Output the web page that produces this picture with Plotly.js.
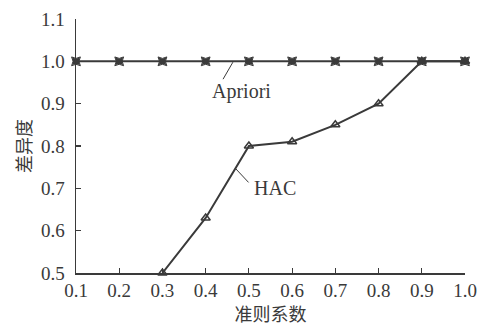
<!DOCTYPE html>
<html>
<head>
<meta charset="utf-8">
<script src="https://cdn.plot.ly/plotly-3.0.1.min.js"></script>
<style>html,body{margin:0;padding:0;background:#fff;}#chart{width:479px;height:326px;}</style>
</head>
<body>
<div id="chart"></div>
<script>
var xTicks = [0.1, 0.2, 0.3, 0.4, 0.5, 0.6, 0.7, 0.8, 0.9, 1.0];
var xTickLabels = ['0.1','0.2','0.3','0.4','0.5','0.6','0.7','0.8','0.9','1.0'];
var yTicks = [0.5, 0.6, 0.7, 0.8, 0.9, 1.0, 1.1];
var yTickLabels = ['0.5','0.6','0.7','0.8','0.9','1.0','1.1'];
var aprioriX = [0.1, 0.2, 0.3, 0.4, 0.5, 0.6, 0.7, 0.8, 0.9, 1.0];
var aprioriY = [1.0, 1.0, 1.0, 1.0, 1.0, 1.0, 1.0, 1.0, 1.0, 1.0];
var hacX = [0.3, 0.4, 0.5, 0.6, 0.7, 0.8, 0.9, 1.0];
var hacY = [0.5, 0.63, 0.8, 0.81, 0.85, 0.9, 1.0, 1.0];

var ink = '#3a3a3a';
var serif = 'Liberation Serif, Times New Roman, serif';
var cjk = 'Noto Sans CJK SC, sans-serif';

var traces = [
  {x: aprioriX, y: aprioriY, mode: 'lines+markers', name: 'Apriori', cliponaxis: false,
   line: {color: ink, width: 2},
   marker: {symbol: 'star-square', size: 8, color: ink, line: {color: ink, width: 1}}},
  {x: hacX, y: hacY, mode: 'lines+markers', name: 'HAC', cliponaxis: false,
   line: {color: ink, width: 2},
   marker: {symbol: 'triangle-up-open', size: 8, color: ink, line: {color: ink, width: 1.5}}}
];

var layout = {
  width: 479, height: 326,
  margin: {l: 76, r: 14, t: 19, b: 53},
  paper_bgcolor: '#fff', plot_bgcolor: '#fff',
  showlegend: false,
  xaxis: {range: [0.1, 1.0], tickvals: xTicks, ticktext: xTickLabels,
    ticks: 'inside', ticklen: 5, tickcolor: ink, tickwidth: 1.2,
    showline: true, linecolor: ink, linewidth: 1.5, showgrid: false, zeroline: false,
    tickfont: {family: serif, size: 19, color: ink},
    title: {text: '准则系数', font: {family: cjk, size: 18, color: ink}, standoff: 2}},
  yaxis: {range: [0.5, 1.1], tickvals: yTicks, ticktext: yTickLabels,
    ticks: 'inside', ticklen: 5, tickcolor: ink, tickwidth: 1.2, ticklabelstandoff: 6,
    showline: true, linecolor: ink, linewidth: 1.5, showgrid: false, zeroline: false,
    tickfont: {family: serif, size: 19, color: ink},
    title: {text: '差异度', font: {family: cjk, size: 18, color: ink}, standoff: 4}},
  annotations: [
    {x: 0.482, y: 0.928, xref: 'x', yref: 'y', text: 'Apriori', showarrow: false,
     font: {family: serif, size: 20, color: ink}},
    {x: 0.463, y: 0.998, xref: 'x', yref: 'y', text: ' ', showarrow: true,
     arrowhead: 0, arrowwidth: 1, arrowcolor: ink, ax: -11, ay: 19, font: {size: 1}},
    {x: 0.56, y: 0.701, xref: 'x', yref: 'y', text: 'HAC', showarrow: false,
     font: {family: serif, size: 20, color: ink}},
    {x: 0.468, y: 0.748, xref: 'x', yref: 'y', text: ' ', showarrow: true,
     arrowhead: 0, arrowwidth: 1, arrowcolor: ink, ax: 15, ay: 16, font: {size: 1}}
  ]
};
Plotly.newPlot('chart', traces, layout, {displayModeBar: false, staticPlot: true});
</script>
</body>
</html>
